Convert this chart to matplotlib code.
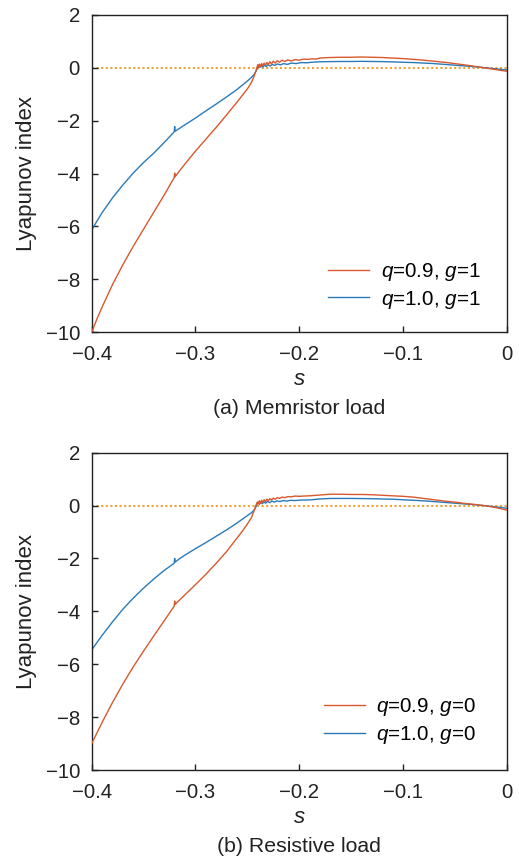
import matplotlib
matplotlib.use("Agg")
import matplotlib.pyplot as plt

plt.rcParams["font.family"] = ["Liberation Sans", "DejaVu Sans"]
plt.rcParams["mathtext.fontset"] = "custom"
plt.rcParams["mathtext.it"] = "Liberation Sans:italic"
plt.rcParams["mathtext.rm"] = "Liberation Sans"

# ---------------- data: (a) memristor load, g = 1 ----------------
s_a_q09 = [-0.400, -0.395, -0.390, -0.380, -0.370, -0.360, -0.350, -0.340, -0.330,
           -0.3205, -0.3200, -0.3197, -0.315, -0.310, -0.300, -0.290, -0.280, -0.270,
           -0.260, -0.255, -0.250, -0.246, -0.2435, -0.2418, -0.2405,
           -0.2398, -0.2390, -0.2382, -0.2372, -0.2362, -0.2350, -0.2338, -0.2325,
           -0.2312, -0.2298, -0.2283, -0.2268, -0.2250, -0.2232, -0.2212, -0.2190,
           -0.2166, -0.2140, -0.2110, -0.2078, -0.2040, -0.2000, -0.1960, -0.1920,
           -0.1880, -0.1840, -0.1800, -0.1760, -0.170, -0.160, -0.150, -0.140,
           -0.130, -0.120, -0.110, -0.100, -0.090, -0.080, -0.070, -0.060, -0.050,
           -0.040, -0.030, -0.020, -0.010, 0.000]
le_a_q09 = [-10.0, -9.50, -9.05, -8.20, -7.45, -6.75, -6.10, -5.45, -4.80,
            -4.15, -3.98, -4.12, -3.88, -3.63, -3.15, -2.70, -2.25, -1.78,
            -1.30, -1.05, -0.80, -0.55, -0.32, -0.12, 0.05,
            0.12, 0.03, 0.14, 0.05, 0.16, 0.08, 0.18, 0.10,
            0.20, 0.13, 0.23, 0.15, 0.25, 0.18, 0.27, 0.21,
            0.29, 0.24, 0.30, 0.26, 0.31, 0.29, 0.33, 0.32,
            0.34, 0.33, 0.37, 0.38, 0.39, 0.40, 0.40, 0.41,
            0.40, 0.39, 0.37, 0.35, 0.32, 0.29, 0.25, 0.21, 0.16,
            0.11, 0.05, -0.01, -0.07, -0.13]

s_a_q10 = [-0.400, -0.395, -0.390, -0.380, -0.370, -0.360, -0.350, -0.340, -0.330,
           -0.3205, -0.3200, -0.3197, -0.315, -0.310, -0.300, -0.290, -0.280, -0.270,
           -0.260, -0.255, -0.250, -0.246, -0.2435, -0.2415, -0.2400,
           -0.2390, -0.2378, -0.2365, -0.2350, -0.2335, -0.2318, -0.2300, -0.2280,
           -0.2258, -0.2235, -0.2210, -0.2182, -0.2150, -0.2115, -0.2075, -0.2030,
           -0.1980, -0.1930, -0.188, -0.180, -0.170, -0.160, -0.150, -0.140,
           -0.130, -0.120, -0.110, -0.100, -0.090, -0.080, -0.070, -0.060, -0.050,
           -0.040, -0.030, -0.020, -0.010, 0.000]
le_a_q10 = [-6.13, -5.80, -5.48, -4.92, -4.43, -3.98, -3.58, -3.22, -2.82,
            -2.42, -2.22, -2.40, -2.28, -2.15, -1.90, -1.63, -1.37, -1.10,
            -0.82, -0.66, -0.50, -0.36, -0.25, -0.12, 0.00,
            0.06, 0.02, 0.08, 0.03, 0.10, 0.05, 0.12, 0.07,
            0.13, 0.09, 0.15, 0.11, 0.16, 0.13, 0.18, 0.16,
            0.20, 0.19, 0.21, 0.23, 0.235, 0.24, 0.24, 0.245,
            0.24, 0.235, 0.225, 0.21, 0.20, 0.18, 0.16, 0.13, 0.10,
            0.07, 0.04, 0.00, -0.04, -0.08]

# ---------------- data: (b) resistive load, g = 0 ----------------
s_b_q09 = [-0.400, -0.395, -0.390, -0.380, -0.370, -0.360, -0.350, -0.340, -0.330,
           -0.3205, -0.3200, -0.3197, -0.315, -0.310, -0.300, -0.290, -0.280, -0.270,
           -0.260, -0.255, -0.250, -0.246, -0.2435, -0.2420, -0.2408,
           -0.2398, -0.2390, -0.2382, -0.2372, -0.2362, -0.2350, -0.2338, -0.2325,
           -0.2312, -0.2298, -0.2283, -0.2268, -0.2250, -0.2232, -0.2212, -0.2190,
           -0.2166, -0.2140, -0.2110, -0.2078, -0.2040, -0.2000, -0.1960,
           -0.190, -0.180, -0.170, -0.160, -0.150, -0.140,
           -0.130, -0.120, -0.110, -0.100, -0.090, -0.080, -0.070, -0.060, -0.050,
           -0.040, -0.030, -0.020, -0.010, 0.000]
le_b_q09 = [-9.00, -8.60, -8.20, -7.45, -6.75, -6.10, -5.50, -4.92, -4.35,
            -3.80, -3.61, -3.74, -3.56, -3.37, -2.99, -2.60, -2.18, -1.74,
            -1.23, -0.98, -0.70, -0.45, -0.20, -0.02, 0.10,
            0.15, 0.06, 0.18, 0.09, 0.20, 0.12, 0.22, 0.15,
            0.24, 0.18, 0.26, 0.21, 0.28, 0.24, 0.30, 0.27,
            0.32, 0.30, 0.34, 0.33, 0.36, 0.35, 0.36,
            0.37, 0.40, 0.43, 0.43, 0.42, 0.42,
            0.41, 0.39, 0.37, 0.35, 0.32, 0.27, 0.22, 0.17, 0.13,
            0.08, 0.04, -0.01, -0.08, -0.17]

s_b_q10 = [-0.400, -0.395, -0.390, -0.380, -0.370, -0.360, -0.350, -0.340, -0.330,
           -0.3205, -0.3200, -0.3197, -0.315, -0.310, -0.300, -0.290, -0.280, -0.270,
           -0.260, -0.255, -0.250, -0.246, -0.2435, -0.2418, -0.2405,
           -0.2395, -0.2383, -0.2370, -0.2355, -0.2340, -0.2323, -0.2305, -0.2285,
           -0.2263, -0.2240, -0.2215, -0.2187, -0.2155, -0.2120, -0.2080, -0.2035,
           -0.1985, -0.1935, -0.188, -0.180, -0.170, -0.160, -0.150, -0.140,
           -0.130, -0.120, -0.110, -0.100, -0.090, -0.080, -0.070, -0.060, -0.050,
           -0.040, -0.030, -0.020, -0.010, 0.000]
le_b_q10 = [-5.46, -5.18, -4.91, -4.40, -3.92, -3.50, -3.12, -2.77, -2.45,
            -2.18, -2.00, -2.14, -2.00, -1.87, -1.63, -1.40, -1.16, -0.92,
            -0.66, -0.52, -0.38, -0.27, -0.17, -0.05, 0.06,
            0.12, 0.05, 0.13, 0.07, 0.14, 0.09, 0.16, 0.11,
            0.17, 0.13, 0.18, 0.15, 0.19, 0.17, 0.20, 0.19,
            0.21, 0.21, 0.22, 0.25, 0.27, 0.27, 0.27, 0.265,
            0.26, 0.25, 0.24, 0.22, 0.20, 0.18, 0.15, 0.12, 0.09,
            0.06, 0.03, -0.01, -0.05, -0.10]

x_ticks = [-0.4, -0.3, -0.2, -0.1, 0.0]
x_tick_labels = ["\u22120.4", "\u22120.3", "\u22120.2", "\u22120.1", "0"]
y_ticks = [-10, -8, -6, -4, -2, 0, 2]
y_tick_labels = ["\u221210", "\u22128", "\u22126", "\u22124", "\u22122", "0", "2"]

RED = "#D9582E"
BLUE = "#2A7AB9"
ZERO = "#EBA33A"
INK = "#222222"

fig = plt.figure(figsize=(5.19, 8.59), dpi=100)
ax_a = fig.add_axes([0.1767, 0.6132, 0.7996, 0.3694])
ax_b = fig.add_axes([0.1767, 0.1036, 0.7996, 0.3694])

panels = [
    (ax_a, s_a_q09, le_a_q09, s_a_q10, le_a_q10, "1", "(a) Memristor load", (0.569, 0.225)),
    (ax_b, s_b_q09, le_b_q09, s_b_q10, le_b_q10, "0", "(b) Resistive load", (0.559, 0.233)),
]

for ax, s9, l9, s10, l10, g, caption, leg_anchor in panels:
    ax.axhline(0, color=ZERO, lw=1.5, ls=(0, (1, 1.2)), zorder=1)
    ax.plot(s9, l9, color=RED, lw=1.0, label=r"$q$=0.9, $g$=" + g, zorder=3)
    ax.plot(s10, l10, color=BLUE, lw=1.0, label=r"$q$=1.0, $g$=" + g, zorder=2)

    ax.set_xlim(-0.4, 0.0)
    ax.set_ylim(-10, 2)
    ax.set_xticks(x_ticks)
    ax.set_xticklabels(x_tick_labels)
    ax.set_yticks(y_ticks)
    ax.set_yticklabels(y_tick_labels)
    ax.tick_params(direction="in", length=4, width=1.0, colors=INK,
                   labelsize=14.7, labelcolor=INK)
    ax.tick_params(axis="x", pad=9.5)
    ax.tick_params(axis="y", pad=8.5)
    for sp in ax.spines.values():
        sp.set_color(INK)
        sp.set_linewidth(1.0)

    ax.text(-0.156, 0.5, "Lyapunov index", transform=ax.transAxes, rotation=90,
            ha="center", va="center", fontsize=16, color=INK)
    ax.text(0.5, -0.150, r"$s$", transform=ax.transAxes, ha="center", va="center",
            fontsize=16, color=INK)
    ax.text(0.5, -0.241, caption, transform=ax.transAxes, ha="center", va="center",
            fontsize=15.3, color=INK)

    ax.legend(loc="upper left", bbox_to_anchor=leg_anchor, frameon=False,
              fontsize=14.9, handlelength=2.0, handletextpad=0.55,
              labelspacing=0.28, borderpad=0, borderaxespad=0)

fig.savefig("out.png", dpi=100)
